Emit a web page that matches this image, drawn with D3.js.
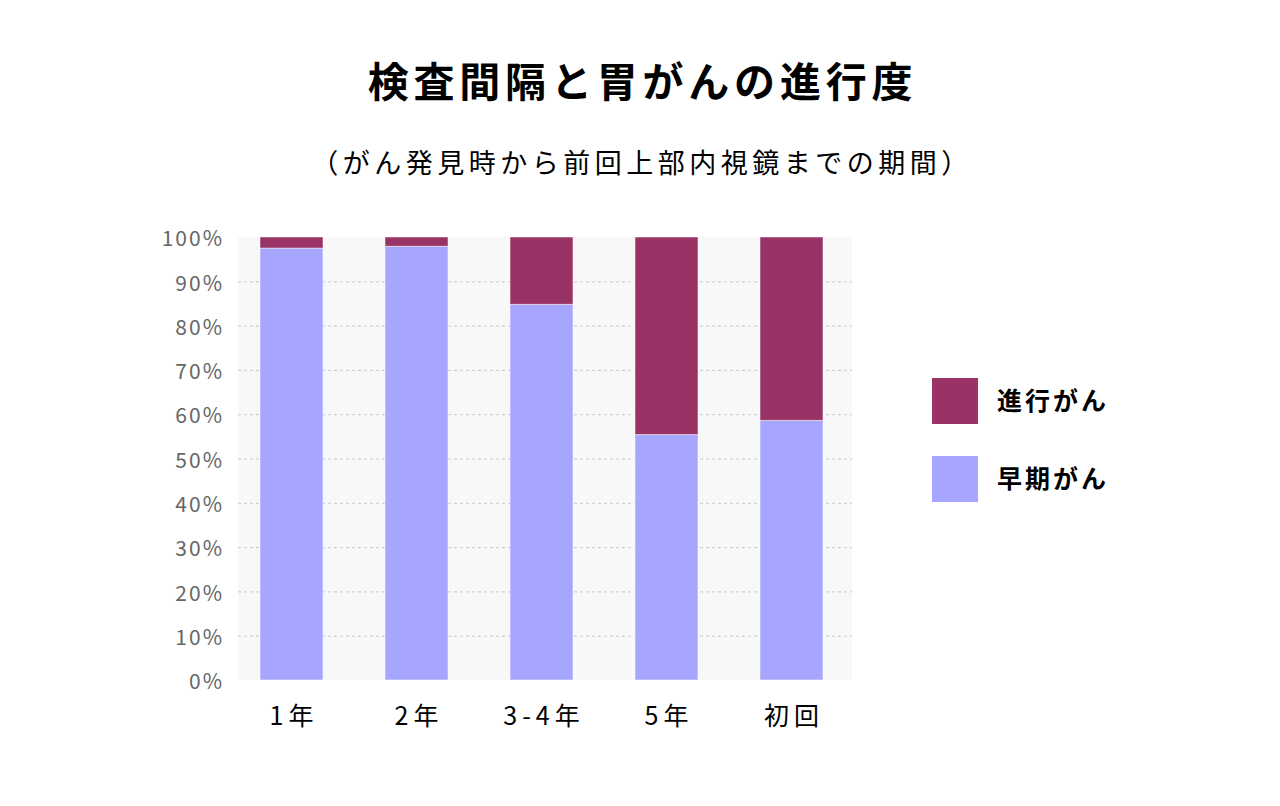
<!DOCTYPE html>
<html>
<head>
<meta charset="utf-8">
<script src="https://cdn.jsdelivr.net/npm/d3@7"></script>
<style>
body { margin:0; background:#fff; }
svg { font-family: "Noto Sans CJK JP", "Noto Sans", sans-serif; }
</style>
</head>
<body>
<svg id="chart" width="1280" height="806"></svg>
<script>
var categories = ["1年", "2年", "3-4年", "5年", "初回"];
var early = [97.5, 97.9, 84.8, 55.4, 58.6];   // 早期がん %
var advanced = [2.5, 2.1, 15.2, 44.6, 41.4];  // 進行がん %
var yTicks = [0, 10, 20, 30, 40, 50, 60, 70, 80, 90, 100];
var seriesNames = ["進行がん", "早期がん"];
var colors = {"進行がん": "#993366", "早期がん": "#a6a6ff"};

var svg = d3.select("#chart");
var margin = {top: 237, bottom: 126, left: 229, right: 426};

var xScale = d3.scaleBand()
  .domain(categories)
  .range([margin.left, 1280 - margin.right])
  .paddingInner(0.496).paddingOuter(0.248);
var yScale = d3.scaleLinear().domain([0, 100]).range([806 - margin.bottom, margin.top]);

// title (letter-spacing adds a trailing gap, so nudge by half of it)
svg.append("text")
  .attr("x", 640 + 2.5).attr("y", 97)
  .attr("text-anchor", "middle")
  .attr("font-size", 41).attr("font-weight", "bold")
  .attr("letter-spacing", 4.8)
  .text("検査間隔と胃がんの進行度");
svg.append("text")
  .attr("x", 640 + 2).attr("y", 173)
  .attr("text-anchor", "middle")
  .attr("font-size", 27)
  .attr("letter-spacing", 4.5)
  .text("（がん発見時から前回上部内視鏡までの期間）");

// plot background
svg.append("rect")
  .attr("x", 238).attr("y", yScale(100))
  .attr("width", 852 - 238).attr("height", yScale(0) - yScale(100))
  .attr("fill", "#f8f8f8");

// grid
svg.append("g").selectAll("line")
  .data(yTicks.filter(function(d) { return d > 0 && d < 100; }))
  .join("line")
  .attr("x1", 238).attr("x2", 852)
  .attr("y1", function(d) { return yScale(d) + 0.5; })
  .attr("y2", function(d) { return yScale(d) + 0.5; })
  .attr("stroke", "#c8c8c8")
  .attr("stroke-dasharray", "3,3");

// y axis
var yAxis = d3.axisLeft(yScale).tickValues(yTicks)
  .tickFormat(function(d) { return d + "%"; })
  .tickSize(0).tickPadding(0);
var ya = svg.append("g").attr("transform", "translate(224,2)").call(yAxis);
ya.select(".domain").remove();
ya.selectAll("text")
  .attr("font-size", 21).attr("fill", "#666")
  .attr("letter-spacing", 2)
  .attr("font-family", "\"Noto Sans CJK JP\", sans-serif");

// x axis
var xAxis = d3.axisBottom(xScale).tickSize(0).tickPadding(0);
var xa = svg.append("g").attr("transform", "translate(2.5,707)").call(xAxis);
xa.select(".domain").remove();
xa.selectAll("text")
  .attr("font-size", 25).attr("fill", "#000")
  .attr("letter-spacing", 5)
  .attr("font-family", "\"Noto Sans CJK JP\", sans-serif");

// stacked bars
var rows = categories.map(function(c, i) {
  return {cat: c, "早期がん": early[i], "進行がん": advanced[i]};
});
var stack = d3.stack().keys(["早期がん", "進行がん"])(rows);

svg.append("g").selectAll("g")
  .data(stack)
  .join("g")
  .attr("fill", function(s) { return colors[s.key]; })
  .selectAll("rect")
  .data(function(s) { return s; })
  .join("rect")
  .attr("x", function(d) { return xScale(d.data.cat); })
  .attr("width", xScale.bandwidth())
  .attr("y", function(d) { return yScale(d[1]); })
  .attr("height", function(d) { return yScale(d[0]) - yScale(d[1]); })
  .attr("stroke", "#fff")
  .attr("stroke-opacity", 0.5)
  .attr("stroke-width", 1);

// legend
var legend = svg.append("g").selectAll("g")
  .data(seriesNames)
  .join("g")
  .attr("transform", function(d, i) { return "translate(932," + (378 + i * 78) + ")"; });
legend.append("rect")
  .attr("width", 46).attr("height", 46)
  .attr("fill", function(d) { return colors[d]; });
legend.append("text")
  .attr("x", 65).attr("y", 32)
  .attr("font-size", 25).attr("font-weight", "bold")
  .attr("letter-spacing", 3)
  .text(function(d) { return d; });
</script>
</body>
</html>
